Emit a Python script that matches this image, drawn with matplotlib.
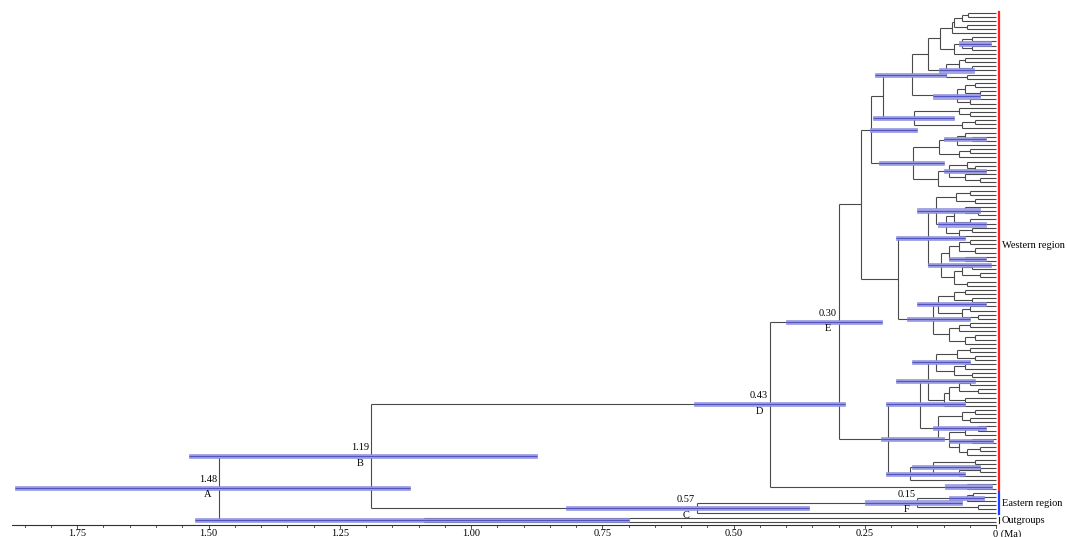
import matplotlib
matplotlib.use("Agg")
import matplotlib.pyplot as plt
from matplotlib.patches import Rectangle

# Age (Ma) of the most recent common ancestor of each pair of neighbouring tips,
# listed top to bottom.  The tree is rebuilt from these values.
western_gaps = [
    0.053, 0.065, 0.08, 0.055, 0.084, 0.107, 0.045, 0.065, 0.045, 0.08,
    0.13, 0.06, 0.07, 0.045, 0.095, 0.055, 0.16,
    0.04, 0.06, 0.03, 0.075, 0.05,
    0.215,
    0.07, 0.05, 0.157, 0.04, 0.065,
    0.238,
    0.06, 0.045, 0.075, 0.109, 0.05, 0.07, 0.158, 0.055, 0.04, 0.09, 0.06, 0.03, 0.11,
    0.257,
    0.05, 0.076, 0.04, 0.115, 0.06, 0.035, 0.08, 0.05, 0.095, 0.045, 0.07,
    0.13,
    0.05, 0.07, 0.04, 0.09, 0.06, 0.105, 0.045, 0.065, 0.03, 0.08, 0.055,
    0.187,
    0.06, 0.08, 0.045, 0.11, 0.05, 0.065, 0.035, 0.12, 0.05, 0.07, 0.09, 0.04, 0.06,
    0.30,
    0.05, 0.075, 0.04, 0.115, 0.06, 0.08, 0.045, 0.13, 0.05, 0.07, 0.035, 0.09, 0.06, 0.1,
    0.145,
    0.04, 0.065, 0.05, 0.11, 0.035, 0.06, 0.09, 0.045, 0.07, 0.03, 0.055,
    0.206,
    0.04, 0.12, 0.03, 0.07, 0.164,
    0.43,
    0.055,
]
split_west_east = 1.19
eastern_gaps = [0.044, 0.055, 0.15, 0.035, 0.57]
split_root = 1.48
outgroup_gaps = [1.09]

gaps = western_gaps + [split_west_east] + eastern_gaps + [split_root] + outgroup_gaps
n_west = len(western_gaps) + 1
n_east = len(eastern_gaps) + 1
n_tips = len(gaps) + 1

# 95% HPD intervals (old, young) keyed by the gap index of the node
hpd_gap = [121, 115, 122, 120, 113, 80, 118, 117, 114, 112,
           16, 14, 25, 35, 30, 22, 28, 46, 54, 51, 60, 59, 70, 74,
           88, 84, 99, 95, 103, 109, 107, 7, 38]
hpd_old = [1.869, 1.537, 1.525, 0.819, 0.575, 0.40, 0.25, 0.09, 0.097, 0.21,
           0.23, 0.108, 0.235, 0.223, 0.099, 0.12, 0.24, 0.15, 0.19, 0.11, 0.13, 0.09, 0.15, 0.17,
           0.19, 0.16, 0.12, 0.21, 0.09, 0.16, 0.22, 0.07, 0.1]
hpd_young = [1.116, 0.874, 0.70, 0.356, 0.288, 0.217, 0.065, 0.023, 0.008, 0.06,
             0.095, 0.042, 0.08, 0.099, 0.019, 0.03, 0.15, 0.03, 0.06, 0.02, 0.01, 0.02, 0.02, 0.05,
             0.04, 0.05, 0.02, 0.06, 0.005, 0.03, 0.1, 0.01, 0.02]

# Labelled nodes: gap index, letter
label_gap = [121, 115, 120, 113, 80, 118]
label_txt = ["A", "B", "C", "D", "E", "F"]

axis_ticks = [1.75, 1.50, 1.25, 1.00, 0.75, 0.50, 0.25, 0.0]

# ---------------------------------------------------------------- layout
W, H = 1067, 537
X0, SCALE = 996.0, 525.0          # pixel of age 0, pixels per Ma
TIP_TOP, TIP_STEP = 12.5, 4.14
FONT = "Liberation Serif"

fig = plt.figure(figsize=(W / 100, H / 100), dpi=100)
ax = fig.add_axes([0, 0, 1, 1])
ax.set_xlim(X0 / SCALE, (X0 - W) / SCALE)
ax.set_ylim(H, 0)
ax.axis("off")


def build(lo, hi):
    if lo == hi:
        return {"age": 0.0, "y": TIP_TOP + TIP_STEP * lo, "children": [], "gaps": []}
    top = max(gaps[lo:hi])
    cuts = [i for i in range(lo, hi) if gaps[i] == top]
    bounds = [lo] + [c + 1 for c in cuts]
    ends = [c for c in cuts] + [hi]
    kids = [build(a, b) for a, b in zip(bounds, ends)]
    return {"age": top, "y": (kids[0]["y"] + kids[-1]["y"]) / 2,
            "children": kids, "gaps": cuts}


root = build(0, n_tips - 1)
nodes = {}
BR = "#4a4a4a"
LW = 0.8


def draw(node):
    for g in node["gaps"]:
        nodes[g] = node
    if not node["children"]:
        return
    ys = [k["y"] for k in node["children"]]
    ax.plot([node["age"], node["age"]], [ys[0], ys[-1]], color=BR, lw=LW,
            solid_capstyle="butt", zorder=2)
    for k in node["children"]:
        ax.plot([node["age"], k["age"]], [k["y"], k["y"]], color=BR, lw=LW,
                solid_capstyle="butt", zorder=2)
        draw(k)


draw(root)

# HPD bars: pale band with a darker core
for g, old, young in zip(hpd_gap, hpd_old, hpd_young):
    nd = nodes[g]
    ax.add_patch(Rectangle((old, nd["y"] - 2.1), young - old, 4.2,
                           facecolor="#a3a5e6", edgecolor="#8587d8", lw=0.4, zorder=3))
    ax.plot([old, young], [nd["y"], nd["y"]], color="#5254c0", lw=0.9,
            solid_capstyle="butt", zorder=3.5)

# node labels
for g, t in zip(label_gap, label_txt):
    nd = nodes[g]
    ax.text(nd["age"] + 2 / SCALE, nd["y"] - 4, f"{nd['age']:.2f}", ha="right", va="bottom",
            fontsize=7.5, family=FONT, zorder=5)
    ax.text(nd["age"] + 11 / SCALE, nd["y"] + 2.5, t, ha="center", va="top",
            fontsize=7.5, family=FONT, zorder=5)

# clade bars and names
tip_y = lambda i: TIP_TOP + TIP_STEP * i
xb = -3 / SCALE
ax.plot([xb, xb], [tip_y(0) - 1, tip_y(n_west - 1) + 1], color="#ff2020", lw=1.6, zorder=4)
ax.plot([xb, xb], [tip_y(n_west) - 1, tip_y(n_west + n_east - 1) + 1], color="#2040ff",
        lw=1.6, zorder=4)
ax.plot([xb, xb], [tip_y(n_tips - 2) - 1, tip_y(n_tips - 1) + 1], color="#202020",
        lw=0.8, zorder=4)
ax.text(-6 / SCALE, 246, "Western region", ha="left", va="center", fontsize=7.5, family=FONT)
ax.text(-6 / SCALE, (tip_y(n_west) + tip_y(n_west + n_east - 1)) / 2, "Eastern region",
        ha="left", va="center", fontsize=7.5, family=FONT)
ax.text(-6 / SCALE, (tip_y(n_tips - 2) + tip_y(n_tips - 1)) / 2 + 0.5, "Outgroups",
        ha="left", va="center", fontsize=7.5, family=FONT)

# time axis
AY = 525
ax.plot([1.875, 0], [AY, AY], color="#303030", lw=0.8)
for k in range(0, 38):
    t = k * 0.05
    if t > 1.8751:
        break
    major = (k % 5 == 0)
    ax.plot([t, t], [AY, AY + (3 if major else 2)], color="#303030", lw=0.6)
for t in axis_ticks:
    if t == 0:
        ax.text(3 / SCALE, AY + 4, "0 (Ma)", ha="left", va="top", fontsize=7.5, family=FONT)
    else:
        ax.text(t, AY + 4, f"{t:.2f}", ha="center", va="top", fontsize=7.5, family=FONT)

fig.savefig("out.png", dpi=100, facecolor="white")
